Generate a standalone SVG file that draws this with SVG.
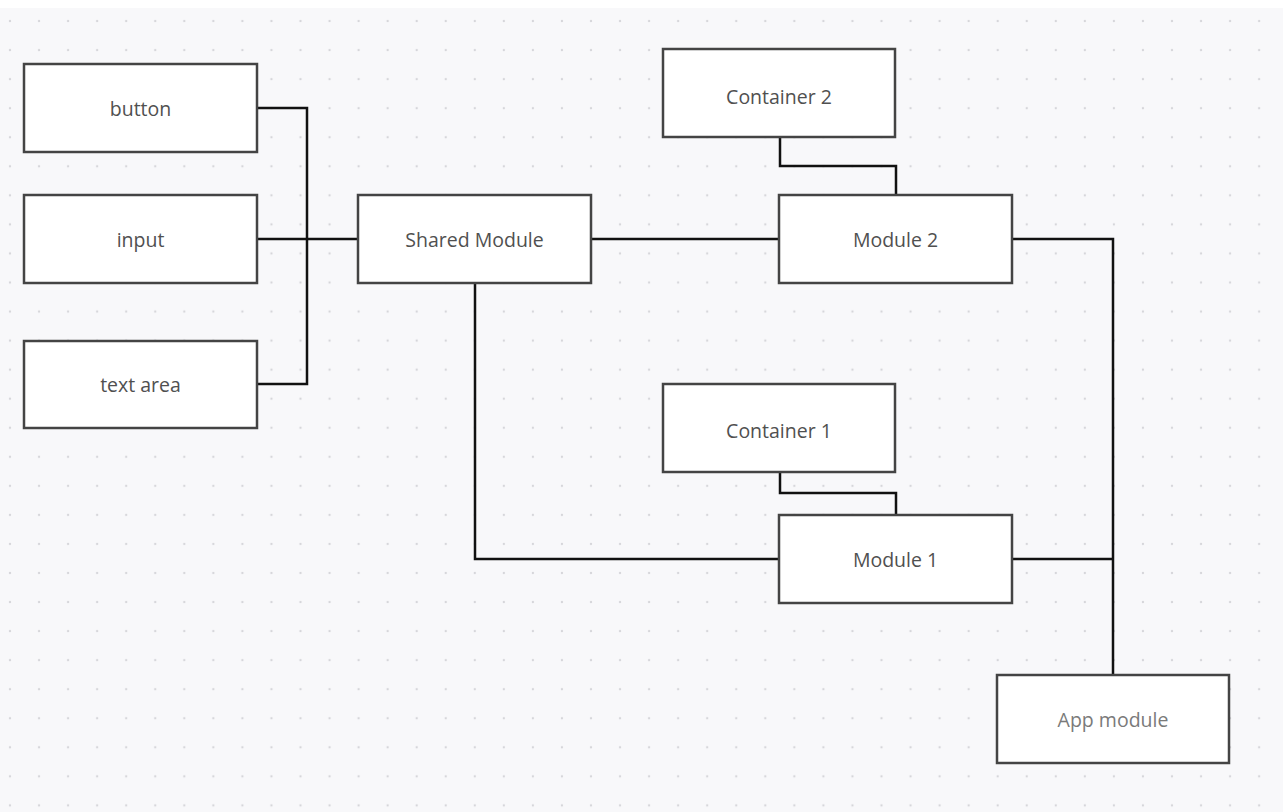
<svg xmlns="http://www.w3.org/2000/svg" width="1283" height="812" viewBox="0 0 1283 812">
<defs>
<pattern id="dots" x="-4.5" y="6.5" width="29.05" height="29.05" patternUnits="userSpaceOnUse">
<circle cx="14.5" cy="14.5" r="1.2" fill="#d6d6da"/>
</pattern>
<style>
.box{fill:#ffffff;stroke:#444444;stroke-width:2.5}
.lbl{font-family:"Open Sans","Liberation Sans",sans-serif;font-size:19.5px;fill:#505050;text-anchor:middle;dominant-baseline:central}
.light{fill:#7a7a7a}
.wire{fill:none;stroke:#111111;stroke-width:2.5}
</style>
</defs>
<rect x="0" y="0" width="1283" height="812" fill="#ffffff"/>
<rect x="0" y="8" width="1283" height="804" fill="#f8f8fa"/>
<rect x="0" y="8" width="1283" height="804" fill="url(#dots)"/>
<g id="connectors">
<path class="wire" d="M257,108 H307 V384 H257"/>
<path class="wire" d="M257,239 H358"/>
<path class="wire" d="M591,239 H779"/>
<path class="wire" d="M475,283 V559 H779"/>
<path class="wire" d="M780,137 V166 H896 V195"/>
<path class="wire" d="M780,472 V493 H896 V515"/>
<path class="wire" d="M1012,239 H1113 V675"/>
<path class="wire" d="M1012,559 H1113"/>
</g>
<g id="button"><rect class="box" x="24" y="64" width="233" height="88"/><text class="lbl" x="140.5" y="108">button</text></g>
<g id="input"><rect class="box" x="24" y="195" width="233" height="88"/><text class="lbl" x="140.5" y="239">input</text></g>
<g id="textarea"><rect class="box" x="24" y="341" width="233" height="87"/><text class="lbl" x="140.5" y="384">text area</text></g>
<g id="shared"><rect class="box" x="358" y="195" width="233" height="88"/><text class="lbl" x="474.5" y="239">Shared Module</text></g>
<g id="container2"><rect class="box" x="663" y="49" width="232" height="88"/><text class="lbl" x="779" y="96">Container 2</text></g>
<g id="module2"><rect class="box" x="779" y="195" width="233" height="88"/><text class="lbl" x="895.5" y="239">Module 2</text></g>
<g id="container1"><rect class="box" x="663" y="384" width="232" height="88"/><text class="lbl" x="779" y="430">Container 1</text></g>
<g id="module1"><rect class="box" x="779" y="515" width="233" height="88"/><text class="lbl" x="895.5" y="559">Module 1</text></g>
<g id="app"><rect class="box" x="997" y="675" width="232" height="88"/><text class="lbl light" x="1113" y="719">App module</text></g>
</svg>
